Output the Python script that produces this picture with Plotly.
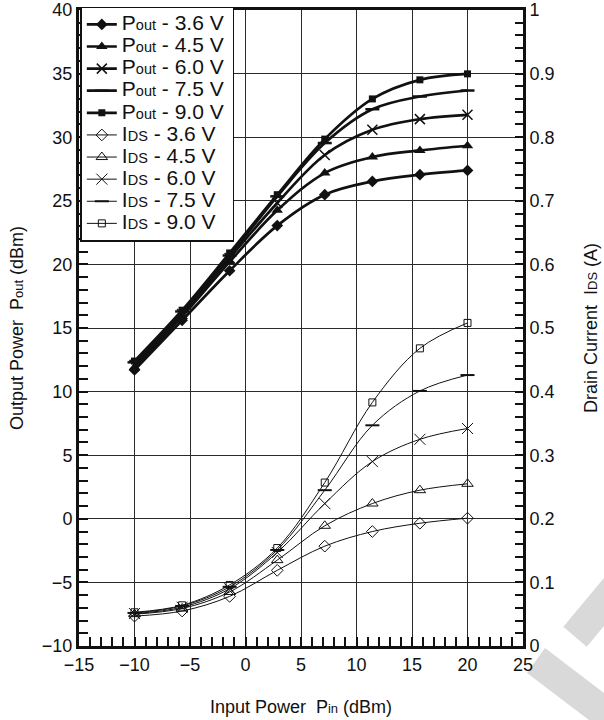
import plotly.graph_objects as go

# ---------------- data ----------------
pin = [-10, -5.71, -1.43, 2.86, 7.14, 11.43, 15.71, 20]

pout_36 = [11.7, 15.6, 19.5, 23.05, 25.48, 26.52, 27.05, 27.39]
pout_45 = [11.9, 15.9, 20.2, 24.25, 27.18, 28.44, 28.96, 29.33]
pout_60 = [12.1, 16.1, 20.5, 24.83, 28.6, 30.58, 31.42, 31.76]
pout_75 = [12.3, 16.3, 20.7, 25.35, 29.54, 32.2, 33.2, 33.67]
pout_90 = [12.4, 16.4, 20.9, 25.48, 29.85, 33.01, 34.51, 34.98]

ids_36 = [0.047, 0.055, 0.078, 0.119, 0.157, 0.180, 0.193, 0.201]
ids_45 = [0.050, 0.059, 0.085, 0.135, 0.189, 0.224, 0.245, 0.255]
ids_60 = [0.051, 0.061, 0.090, 0.147, 0.224, 0.290, 0.325, 0.342]
ids_75 = [0.052, 0.063, 0.093, 0.151, 0.245, 0.347, 0.401, 0.426]
ids_90 = [0.053, 0.064, 0.096, 0.154, 0.257, 0.383, 0.468, 0.508]

voltages = ["3.6 V", "4.5 V", "6.0 V", "7.5 V", "9.0 V"]
pout_series = [pout_36, pout_45, pout_60, pout_75, pout_90]
ids_series = [ids_36, ids_45, ids_60, ids_75, ids_90]

# ---------------- styles ----------------
FONT = "Liberation Sans, Arial, Helvetica, sans-serif"
INK = "#111111"


def leg(main, sub, rest):
    return ("<span style='font-size:21px'>" + main + "</span>"
            "<span style='font-size:14.5px'>" + sub + "</span>"
            "<span style='font-size:21px'>" + rest + "</span>"
            "<span style='font-size:12px'>&nbsp;</span>")


def ttl(main, sub, rest):
    return main + "<span style='font-size:13px'>" + sub + "</span>" + rest


pout_markers = [
    dict(symbol="diamond", size=9, color=INK),
    dict(symbol="triangle-up", size=10, color=INK),
    dict(symbol="x-thin", size=10, color=INK, line=dict(width=1.5, color=INK)),
    dict(symbol="line-ew", size=10, color=INK, line=dict(width=2.5, color=INK)),
    dict(symbol="square", size=7, color=INK),
]
ids_markers = [
    dict(symbol="diamond-open", size=9, color=INK, line=dict(width=1, color=INK)),
    dict(symbol="triangle-up-open", size=10, color=INK, line=dict(width=1, color=INK)),
    dict(symbol="x-thin", size=11, color=INK, line=dict(width=1, color=INK)),
    dict(symbol="line-ew", size=10, color=INK, line=dict(width=2, color=INK)),
    dict(symbol="square-open", size=7, color=INK, line=dict(width=1, color=INK)),
]

fig = go.Figure()

for v, ys, mk in zip(voltages, pout_series, pout_markers):
    fig.add_trace(go.Scatter(
        x=pin, y=ys, mode="lines+markers",
        name=leg("P", "out", " - " + v),
        line=dict(color=INK, width=2.7, shape="spline", smoothing=1.0),
        marker=mk, yaxis="y",
    ))

for v, ys, mk in zip(voltages, ids_series, ids_markers):
    fig.add_trace(go.Scatter(
        x=pin, y=ys, mode="lines+markers",
        name=leg("I", "DS", " - " + v),
        line=dict(color=INK, width=1, shape="spline", smoothing=1.0),
        marker=mk, yaxis="y2",
    ))

# plot-area pixel geometry (for watermark shapes)
L, R, T, B = 79, 523, 10, 646
W, H = 604, 720


def px(xp, yp):
    return (xp - L) / (R - L), (B - yp) / (B - T)


def poly(points):
    pts = [px(a, b) for a, b in points]
    return "M " + " L ".join(f"{a:.4f},{b:.4f}" for a, b in pts) + " Z"


band1 = [(563.3, 626.7), (604, 578), (604, 626), (586.7, 646.7)]
band2 = [(545, 648), (604, 693), (604, 720), (589, 720), (527, 673)]

shapes = [
    dict(type="path", xref="paper", yref="paper", path=poly(band1),
         fillcolor="#d9d9d9", line=dict(width=0), layer="below"),
    dict(type="path", xref="paper", yref="paper", path=poly(band2),
         fillcolor="#d9d9d9", line=dict(width=0), layer="below"),
]

fig.update_layout(
    width=W, height=H,
    margin=dict(l=L, r=W - R, t=T, b=H - B, autoexpand=False),
    paper_bgcolor="white", plot_bgcolor="white",
    font=dict(family=FONT, size=17, color=INK),
    showlegend=True,
    legend=dict(
        x=0.003, y=1.005, xanchor="left", yanchor="top",
        bgcolor="white", bordercolor=INK, borderwidth=1.5,
        font=dict(family=FONT, size=14.7, color=INK),
        itemwidth=30, tracegroupgap=0,
    ),
    shapes=shapes,
    xaxis=dict(
        range=[-15, 25], tick0=-15, dtick=5,
        showgrid=True, gridcolor="#2a2a2a", gridwidth=1.4,
        zeroline=False, automargin=False,
        showline=True, linecolor=INK, linewidth=3, mirror=True,
        ticks="inside", ticklen=9, tickwidth=1.5, tickcolor=INK,
        minor=dict(dtick=1, ticks="inside", ticklen=9, tickwidth=1.5,
                   tickcolor=INK, showgrid=False),
        tickfont=dict(size=18),
        title=dict(text=ttl("Input Power  P", "in", " (dBm)"),
                   font=dict(size=18), standoff=27),
    ),
    yaxis=dict(
        range=[-10, 40], tick0=-10, dtick=5,
        showgrid=True, gridcolor="#2a2a2a", gridwidth=1.4,
        zeroline=False, automargin=False,
        showline=True, linecolor=INK, linewidth=3,
        ticks="inside", ticklen=9, tickwidth=1.5, tickcolor=INK,
        minor=dict(dtick=1, ticks="inside", ticklen=9, tickwidth=1.5,
                   tickcolor=INK, showgrid=False),
        tickfont=dict(size=18),
        title=dict(text=ttl("Output Power  P", "out", " (dBm)"),
                   font=dict(size=18), standoff=14),
    ),
    yaxis2=dict(
        range=[0, 1], tick0=0, dtick=0.1,
        overlaying="y", side="right",
        showgrid=False, zeroline=False, automargin=False,
        showline=True, linecolor=INK, linewidth=3,
        ticks="inside", ticklen=8, tickwidth=1.5, tickcolor=INK,
        minor=dict(dtick=0.02, ticks="inside", ticklen=8, tickwidth=1.5,
                   tickcolor=INK, showgrid=False),
        tickfont=dict(size=18),
        title=dict(text=ttl("Drain Current  I", "DS", " (A)"),
                   font=dict(size=18), standoff=31),
    ),
    hovermode=False,
)

fig.write_html("out.html", config=dict(displayModeBar=False))

# remove the default page margin so the figure sits at the window origin
with open("out.html", encoding="utf-8") as f:
    html = f.read()
html = html.replace("<body>", "<body style=\"margin:0;overflow:hidden\">", 1)
with open("out.html", "w", encoding="utf-8") as f:
    f.write(html)
